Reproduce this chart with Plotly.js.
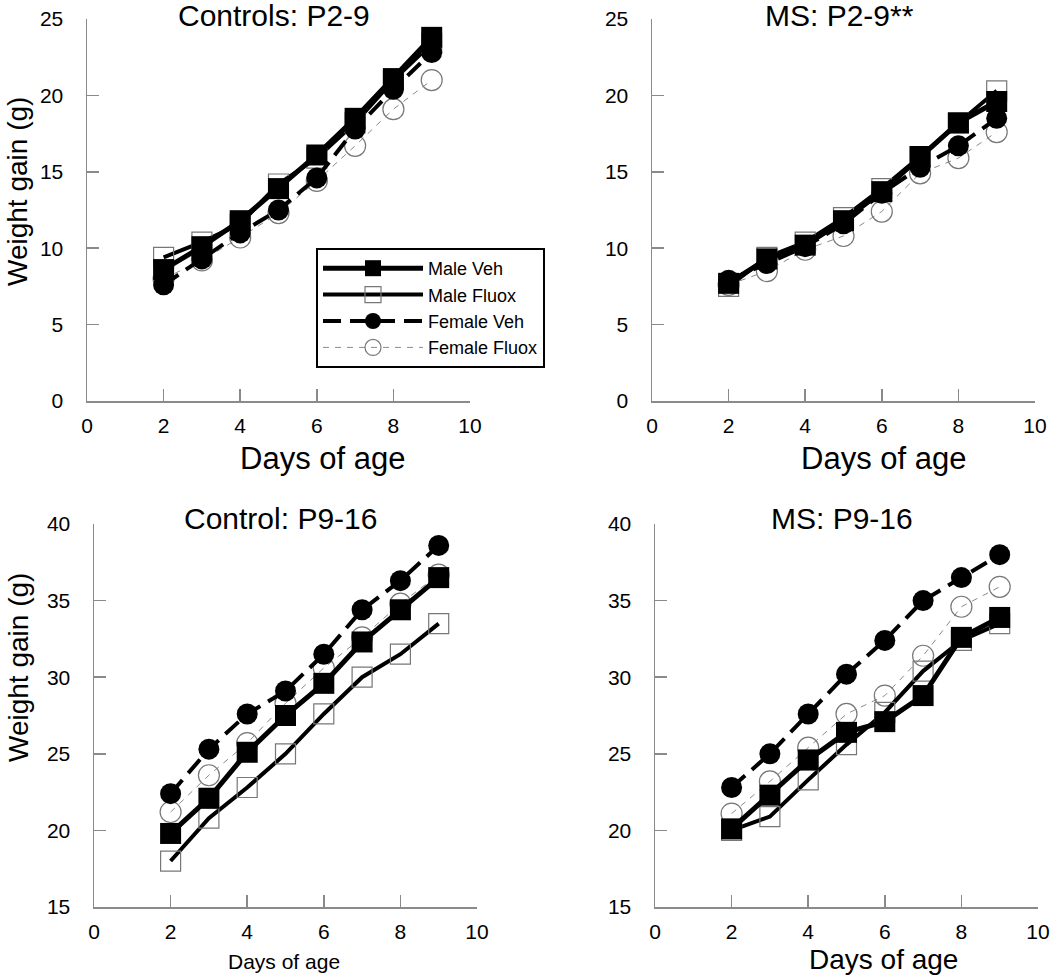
<!DOCTYPE html>
<html>
<head>
<meta charset="utf-8">
<script src="https://cdn.plot.ly/plotly-3.0.1.min.js"></script>
<style>
  body { margin: 0; background: #fff; }
  #plotDiv { width: 1050px; height: 979px; }
</style>
</head>
<body>
<div id="plotDiv"></div>
<script>
var days = [2, 3, 4, 5, 6, 7, 8, 9];
var seriesNames = ['Male Veh', 'Male Fluox', 'Female Veh', 'Female Fluox'];
var panelTitles = ['Controls: P2-9', 'MS: P2-9**', 'Control: P9-16', 'MS: P9-16'];
var yTitle = 'Weight gain (g)';
var xTitle = 'Days of age';

// Controls P2-9
var ctrlEarlyMaleVeh = [8.6, 10.1, 11.8, 13.9, 16.1, 18.5, 21.1, 23.8];
var ctrlEarlyMaleFluox = [9.4, 10.4, 11.6, 14.2, 15.9, 18.2, 21.0, 23.4];
var ctrlEarlyFemaleVeh = [7.6, 9.3, 11.0, 12.5, 14.6, 17.8, 20.4, 22.8];
var ctrlEarlyFemaleFluox = [8.0, 9.2, 10.7, 12.3, 14.4, 16.7, 19.1, 21.0];

// MS P2-9
var msEarlyMaleVeh = [7.7, 9.3, 10.2, 11.8, 13.7, 16.0, 18.2, 19.6];
var msEarlyMaleFluox = [7.5, 9.4, 10.4, 12.0, 13.9, 16.0, 18.2, 20.3];
var msEarlyFemaleVeh = [7.9, 9.0, 10.1, 11.6, 13.6, 15.3, 16.7, 18.5];
var msEarlyFemaleFluox = [7.6, 8.5, 9.9, 10.8, 12.4, 14.9, 15.9, 17.6];

// Control P9-16
var ctrlLateMaleVeh = [19.8, 22.1, 25.1, 27.5, 29.6, 32.3, 34.4, 36.5];
var ctrlLateMaleFluox = [18.0, 20.8, 22.8, 25.0, 27.6, 30.0, 31.5, 33.5];
var ctrlLateFemaleVeh = [22.4, 25.3, 27.6, 29.1, 31.5, 34.4, 36.3, 38.6];
var ctrlLateFemaleFluox = [21.2, 23.6, 25.7, 28.3, 30.6, 32.6, 34.8, 36.7];

// MS P9-16
var msLateMaleVeh = [20.1, 22.3, 24.6, 26.4, 27.1, 28.8, 32.6, 33.9];
var msLateMaleFluox = [20.0, 20.9, 23.3, 25.6, 27.7, 30.4, 32.4, 33.5];
var msLateFemaleVeh = [22.8, 25.0, 27.6, 30.2, 32.4, 35.0, 36.5, 38.0];
var msLateFemaleFluox = [21.1, 23.2, 25.4, 27.6, 28.8, 31.4, 34.6, 35.9];

var FONT = 'Liberation Sans, Arial, sans-serif';
var GREY = '#8a8a8a';

// drawing order: female fluox, male fluox, female veh, male veh (on top)
function panelTraces(mv, mf, fv, ff, xa, ya, showLeg) {
  var fFluox = {
    x: days, y: ff, xaxis: xa, yaxis: ya, name: seriesNames[3],
    type: 'scatter', mode: 'lines+markers', showlegend: showLeg, legendrank: 4,
    line: {color: GREY, width: 1, dash: '6px,6px'},
    marker: {symbol: 'circle-open', size: 21, color: '#777', line: {width: 1.2}}
  };
  var mFluox = {
    x: days, y: mf, xaxis: xa, yaxis: ya, name: seriesNames[1],
    type: 'scatter', mode: 'lines+markers', showlegend: showLeg, legendrank: 2,
    line: {color: '#000', width: 4},
    marker: {symbol: 'square-open', size: 20, color: '#777', line: {width: 1.2}}
  };
  var fVeh = {
    x: days, y: fv, xaxis: xa, yaxis: ya, name: seriesNames[2],
    type: 'scatter', mode: 'lines+markers', showlegend: showLeg, legendrank: 3,
    line: {color: '#000', width: 4, dash: '18px,9px'},
    marker: {symbol: 'circle', size: 21, color: '#000'}
  };
  var mVeh = {
    x: days, y: mv, xaxis: xa, yaxis: ya, name: seriesNames[0],
    type: 'scatter', mode: 'lines+markers', showlegend: showLeg, legendrank: 1,
    line: {color: '#000', width: 5},
    marker: {symbol: 'square', size: 21, color: '#000'}
  };
  return [fFluox, mFluox, fVeh, mVeh];
}

var plotData = []
  .concat(panelTraces(ctrlEarlyMaleVeh, ctrlEarlyMaleFluox, ctrlEarlyFemaleVeh, ctrlEarlyFemaleFluox, 'x', 'y', true))
  .concat(panelTraces(msEarlyMaleVeh, msEarlyMaleFluox, msEarlyFemaleVeh, msEarlyFemaleFluox, 'x2', 'y2', false))
  .concat(panelTraces(ctrlLateMaleVeh, ctrlLateMaleFluox, ctrlLateFemaleVeh, ctrlLateFemaleFluox, 'x3', 'y3', false))
  .concat(panelTraces(msLateMaleVeh, msLateMaleFluox, msLateFemaleVeh, msLateFemaleFluox, 'x4', 'y4', false));

var W = 1050, H = 979;
function xd(a, b) { return [a / W, b / W]; }
function yd(top, bottom) { return [1 - bottom / H, 1 - top / H]; }

function xAxis(dom, anchor) {
  return {
    domain: dom, anchor: anchor, range: [0, 10], dtick: 2, tick0: 0,
    showline: true, linecolor: GREY, linewidth: 1.5,
    ticks: 'inside', ticklen: 12, tickwidth: 1.5, tickcolor: GREY,
    showgrid: false, zeroline: false, ticklabelstandoff: 5,
    tickfont: {family: FONT, size: 21, color: '#000'}
  };
}
function yAxis(dom, anchor, r) {
  return {
    domain: dom, anchor: anchor, range: r, dtick: 5, tick0: 0,
    showline: true, linecolor: GREY, linewidth: 1.5,
    ticks: 'inside', ticklen: 12, tickwidth: 1.5, tickcolor: GREY,
    showgrid: false, zeroline: false, ticklabelstandoff: 18,
    tickfont: {family: FONT, size: 21, color: '#000'}
  };
}

function ann(text, x, y, size, angle) {
  return {
    text: text, xref: 'paper', yref: 'paper', x: x / W, y: 1 - y / H,
    xanchor: 'center', yanchor: 'middle', showarrow: false,
    textangle: angle || 0, font: {family: FONT, size: size, color: '#000'}
  };
}

var layout = {
  width: W, height: H,
  margin: {l: 0, r: 0, t: 0, b: 0, pad: 0},
  paper_bgcolor: '#fff', plot_bgcolor: '#fff',
  font: {family: FONT, color: '#000'},
  xaxis: xAxis(xd(87, 470), 'y'),
  yaxis: yAxis(yd(19, 401), 'x', [0, 25]),
  xaxis2: xAxis(xd(652, 1035), 'y2'),
  yaxis2: yAxis(yd(19, 401), 'x2', [0, 25]),
  xaxis3: xAxis(xd(94, 477), 'y3'),
  yaxis3: yAxis(yd(524, 907), 'x3', [15, 40]),
  xaxis4: xAxis(xd(655, 1038), 'y4'),
  yaxis4: yAxis(yd(524, 907), 'x4', [15, 40]),
  showlegend: true,
  legend: {
    x: 316 / W, y: 1 - 248 / H, xanchor: 'left', yanchor: 'top',
    bordercolor: '#000', borderwidth: 2, bgcolor: '#fff',
    font: {family: FONT, size: 18, color: '#000'},
    itemwidth: 100, traceorder: 'normal', tracegroupgap: 0
  },
  annotations: [
    ann(panelTitles[0], 274, 15, 30),
    ann(panelTitles[1], 839, 15, 30),
    ann(panelTitles[2], 280, 518, 30),
    ann(panelTitles[3], 842, 518, 30),
    ann(xTitle, 322, 458, 31),
    ann(xTitle, 883, 458, 31),
    ann(xTitle, 284, 961, 21),
    ann(xTitle, 883, 959, 28)
  ].concat([
    ann(yTitle, 18, 192, 28, -90),
    ann(yTitle, 18, 668, 28, -90)
  ])
};

Plotly.newPlot('plotDiv', plotData, layout, {staticPlot: true});
</script>
</body>
</html>
